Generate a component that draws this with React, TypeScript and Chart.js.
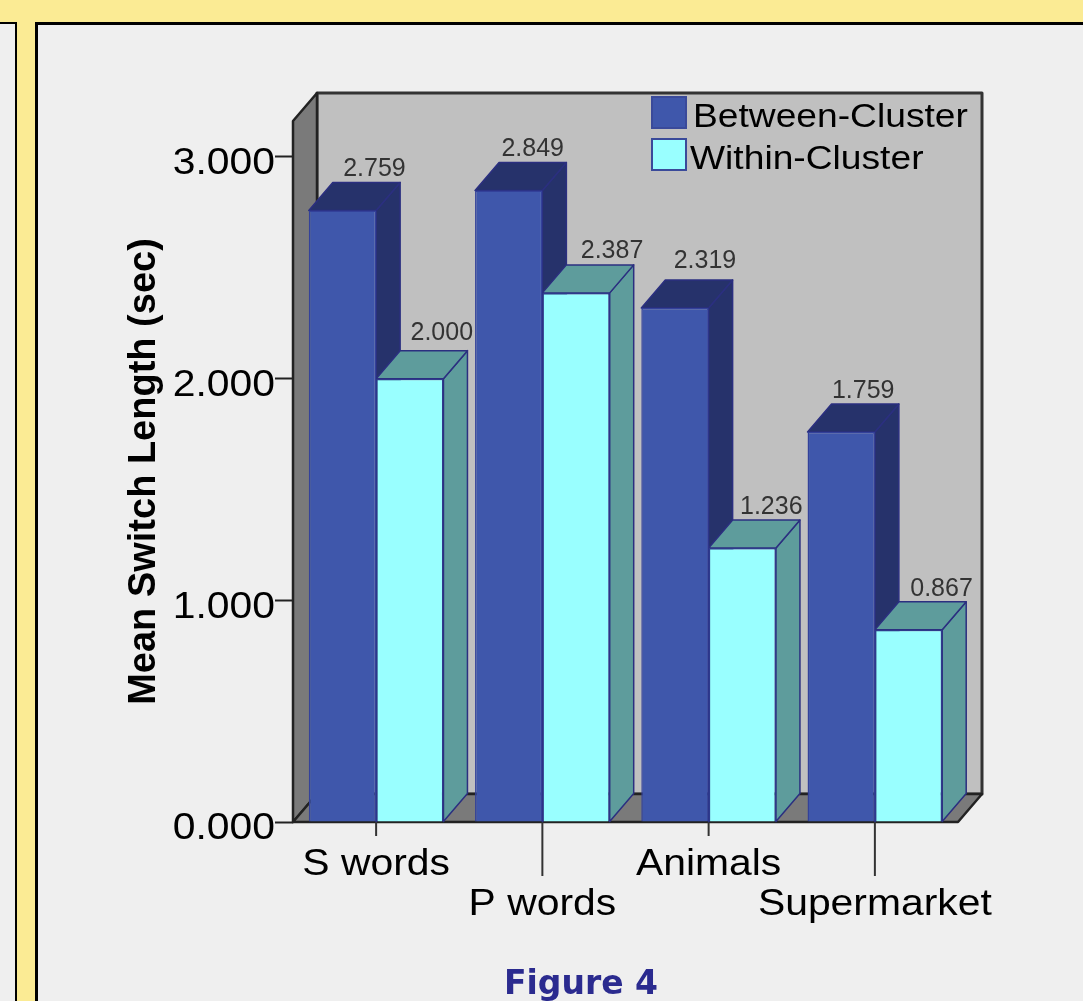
import React, { useEffect, useRef } from "react";
import { Chart, registerables } from "chart.js";

Chart.register(...registerables);

const categories = ["S words", "P words", "Animals", "Supermarket"];
const betweenCluster = [2.759, 2.849, 2.319, 1.759];
const withinCluster = [2.0, 2.387, 1.236, 0.867];
const yTicks = [0, 1, 2, 3];

// label nudges, in the order between[0..3], within[0..3]
const labelNudgeX = [[8, 0, 6, -2], [8, 12, 5, 9]];
const labelNudgeY = [[0, 0, 6, 0], [5, 1, 0, 0]];

const DEPTH_X = 24;
const DEPTH_Y = 28;
const TICK_STRETCH = 1.135;
const LEGEND_STRETCH = 1.127;
const FONT = '"Liberation Sans", Arial, sans-serif';

const poly = (ctx: CanvasRenderingContext2D, pts: number[][], fill: string, stroke: string, lw: number) => {
  ctx.beginPath();
  pts.forEach(([x, y], i) => (i ? ctx.lineTo(x, y) : ctx.moveTo(x, y)));
  ctx.closePath();
  ctx.fillStyle = fill;
  ctx.fill();
  ctx.strokeStyle = stroke;
  ctx.lineWidth = lw;
  ctx.lineJoin = "round";
  ctx.stroke();
};

const sideColors = ["#26326B", "#5E9C9C"];

const scene = {
  id: "scene3d",
  beforeDraw(chart: any) {
    const { ctx, chartArea: a, scales } = chart;
    // Walls and floor
    ctx.save();
    poly(ctx, [[a.left + DEPTH_X, a.top - DEPTH_Y], [a.right + DEPTH_X, a.top - DEPTH_Y], [a.right + DEPTH_X, a.bottom - DEPTH_Y], [a.left + DEPTH_X, a.bottom - DEPTH_Y]], "#C0C0C0", "#333333", 3);
    poly(ctx, [[a.left, a.top], [a.left + DEPTH_X, a.top - DEPTH_Y], [a.left + DEPTH_X, a.bottom - DEPTH_Y], [a.left, a.bottom]], "#7A7A7A", "#222222", 2.5);
    poly(ctx, [[a.left, a.bottom], [a.left + DEPTH_X, a.bottom - DEPTH_Y], [a.right + DEPTH_X, a.bottom - DEPTH_Y], [a.right, a.bottom]], "#7A7A7A", "#222222", 2.5);
    // Alternating tick marks on the category axis
    const x = scales.x;
    categories.forEach((_, i) => {
      const px = x.getPixelForTick(i);
      ctx.beginPath();
      ctx.moveTo(px, a.bottom);
      ctx.lineTo(px, a.bottom + (i % 2 ? 54 : 14));
      ctx.strokeStyle = "#333333";
      ctx.lineWidth = 2;
      ctx.stroke();
    });
    ctx.restore();
    // The tick labels are wider than the font's natural shape
    Object.values(scales).forEach((s: any) => {
      if (s.__patched) return;
      s.__patched = true;
      const orig = s.drawLabels.bind(s);
      s.drawLabels = (area: any) => {
        const fill = ctx.fillText;
        ctx.save();
        if (s.axis === "y") ctx.translate(0, 7.5);
        ctx.fillText = function (text: string, fx: number, fy: number) {
          ctx.save();
          ctx.scale(TICK_STRETCH, 1);
          fill.call(ctx, text, fx / TICK_STRETCH, fy);
          ctx.restore();
        };
        orig(area);
        delete (ctx as any).fillText;
        ctx.restore();
      };
    });
  },
  beforeDatasetsDraw(chart: any) {
    const { ctx } = chart;
    ctx.save();
    categories.forEach((_, j) => {
      chart.data.datasets.forEach((_d: any, i: number) => {
        const b = chart.getDatasetMeta(i).data[j];
        const l = b.x - b.width / 2;
        const r = b.x + b.width / 2;
        const t = b.y;
        const base = b.base;
        poly(ctx, [[r, t], [r + DEPTH_X, t - DEPTH_Y], [r + DEPTH_X, base - DEPTH_Y], [r, base]], sideColors[i], "#2B2F80", 1.5);
        poly(ctx, [[l, t], [l + DEPTH_X, t - DEPTH_Y], [r + DEPTH_X, t - DEPTH_Y], [r, t]], sideColors[i], "#2B2F80", 1.5);
      });
    });
    ctx.restore();
  },
  afterDatasetsDraw(chart: any) {
    const { ctx } = chart;
    ctx.save();
    // Value labels
    ctx.font = `25px ${FONT}`;
    ctx.fillStyle = "#333333";
    ctx.textAlign = "center";
    ctx.textBaseline = "middle";
    chart.data.datasets.forEach((d: any, i: number) => {
      chart.getDatasetMeta(i).data.forEach((b: any, j: number) => {
        ctx.fillText(
          d.data[j].toFixed(3),
          b.x + DEPTH_X + labelNudgeX[i][j],
          b.y - DEPTH_Y - 13 - labelNudgeY[i][j]
        );
      });
    });
    // Legend
    const legendX = [652, 652];
    const legendY = [97, 139];
    const textX = [693, 690];
    ctx.font = `33px ${FONT}`;
    ctx.textAlign = "left";
    chart.data.datasets.forEach((d: any, i: number) => {
      ctx.fillStyle = d.backgroundColor;
      ctx.strokeStyle = "#3A4A9A";
      ctx.lineWidth = 2;
      ctx.fillRect(legendX[i], legendY[i], 34, 31);
      ctx.strokeRect(legendX[i], legendY[i], 34, 31);
      ctx.fillStyle = "#000000";
      ctx.save();
      ctx.translate(textX[i], legendY[i] + 21);
      ctx.scale(LEGEND_STRETCH, 1);
      ctx.fillText(d.label, 0, 0);
      ctx.restore();
    });
    ctx.restore();
  },
};

export default function App() {
  const ref = useRef<HTMLCanvasElement | null>(null);
  useEffect(() => {
    document.body.style.margin = "0";
    const chart = new Chart(ref.current as HTMLCanvasElement, {
      type: "bar",
      data: {
        labels: categories,
        datasets: [
          { label: "Between-Cluster", data: betweenCluster, backgroundColor: "#3F57AB", borderColor: "#33419A", borderWidth: 1.5 },
          { label: "Within-Cluster", data: withinCluster, backgroundColor: "#99FFFF", borderColor: "#2F3A8C", borderWidth: 1.5 },
        ],
      },
      plugins: [scene],
      options: {
        animation: false,
        responsive: false,
        events: [],
        layout: { padding: { left: 0, right: 125, top: 121, bottom: 0 } },
        datasets: { bar: { barPercentage: 1, categoryPercentage: 0.81 } },
        plugins: { legend: { display: false }, tooltip: { enabled: false } },
        scales: {
          x: {
            afterFit: (s: any) => { s.height = 179; },
            grid: { display: false },
            border: { display: false },
            ticks: {
              autoSkip: false,
              maxRotation: 0,
              minRotation: 0,
              padding: 15,
              color: "#000000",
              font: { family: FONT, size: 36, lineHeight: 1.11 },
              callback: (_v: any, i: number) => (i % 2 ? ["", categories[i]] : categories[i]),
            },
          },
          y: {
            min: 0,
            max: 3.1624,
            afterFit: (s: any) => { s.width = 293; },
            afterBuildTicks: (s: any) => { s.ticks = yTicks.map((value) => ({ value })); },
            grid: { drawOnChartArea: false, tickLength: 18, tickColor: "#222222", tickWidth: 2 },
            border: { display: false },
            title: {
              display: true,
              text: "Mean Switch Length (sec)",
              color: "#000000",
              padding: { top: 122, bottom: 0 },
              font: { family: FONT, size: 38, weight: "bold" },
            },
            ticks: {
              padding: 0,
              color: "#000000",
              font: { family: FONT, size: 36 },
              callback: (v: any) => Number(v).toFixed(3),
            },
          },
        },
      } as any,
    });
    return () => chart.destroy();
  }, []);

  return (
    <div style={{ position: "absolute", left: 0, top: 0, width: 1083, height: 1001, overflow: "hidden", background: "#FBEB94" }}>
      <div style={{ position: "absolute", left: -5, top: 22, width: 18, height: 990, background: "#EFEFEF", border: "2px solid #000", boxSizing: "content-box" }} />
      <div style={{ position: "absolute", left: 35, top: 22, width: 1060, height: 990, background: "#EFEFEF", border: "3px solid #000", boxSizing: "content-box" }} />
      <div style={{ position: "absolute", left: 0, width: 1162, top: 960, textAlign: "center", font: 'bold 33px "DejaVu Sans", Verdana, sans-serif', color: "#2B2B8F", lineHeight: "46px", filter: "blur(0.5px)" }}>Figure 4</div>
      <canvas ref={ref} width={1083} height={1001} style={{ position: "absolute", left: 0, top: 0, width: 1083, height: 1001, filter: "blur(0.6px)" }} />
    </div>
  );
}
